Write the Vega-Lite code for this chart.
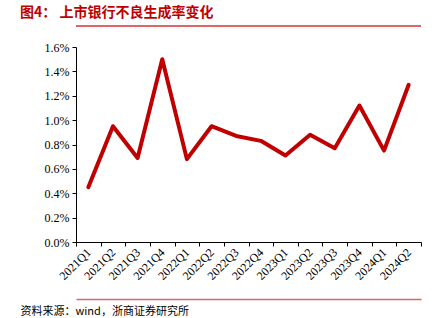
{
  "$schema": "https://vega.github.io/schema/vega-lite/v6.json",
  "autosize": "none",
  "width": 345,
  "height": 195,
  "padding": {"left": 76, "top": 47, "right": 23, "bottom": 76},
  "background": "white",
  "title": {
    "text": "图4：   上市银行不良生成率变化",
    "anchor": "start",
    "frame": "group",
    "dx": -56,
    "font": "Noto Sans CJK SC",
    "fontSize": 14,
    "fontWeight": "bold",
    "color": "#C00000",
    "offset": 6
  },
  "config": {
    "view": {"stroke": null},
    "axisY": {
      "title": null, "format": ".1%", "values": [0, 0.002, 0.004, 0.006, 0.008, 0.01, 0.012, 0.014, 0.016],
      "tickCount": 9,
      "grid": false, "labelFont": "Liberation Serif", "labelFontSize": 12, "labelColor": "#000",
      "labelOverlap": false,
      "tickSize": 4, "tickColor": "#000", "domainColor": "#000", "labelPadding": 3
    }
  },
  "data": {
    "values": [
      {"q": "2021Q1", "v": 0.0045},
      {"q": "2021Q2", "v": 0.0095},
      {"q": "2021Q3", "v": 0.0069},
      {"q": "2021Q4", "v": 0.0150},
      {"q": "2022Q1", "v": 0.0068},
      {"q": "2022Q2", "v": 0.0095},
      {"q": "2022Q3", "v": 0.0087},
      {"q": "2022Q4", "v": 0.0083},
      {"q": "2023Q1", "v": 0.0071},
      {"q": "2023Q2", "v": 0.0088},
      {"q": "2023Q3", "v": 0.0077},
      {"q": "2023Q4", "v": 0.0112},
      {"q": "2024Q1", "v": 0.0075},
      {"q": "2024Q2", "v": 0.0129}
    ]
  },
  "layer": [
    {
      "mark": {"type": "line", "color": "#C00000", "strokeWidth": 4, "strokeJoin": "round", "strokeCap": "round"},
      "encoding": {
        "x": {
          "field": "q", "type": "ordinal", "sort": null, "bandPosition": 0.5,
          "scale": {"type": "band", "paddingInner": 0, "paddingOuter": 0},
          "axis": {
            "orient": "bottom",
            "title": null, "labelAngle": -45, "labelAlign": "right", "labelBaseline": "middle",
            "labelFont": "Liberation Serif", "labelFontSize": 12, "labelColor": "#000",
            "labelPadding": 4,
            "tickBand": "extent", "tickSize": 4, "tickColor": "#000", "domainColor": "#000",
            "labelOverlap": false
          }
        },
        "y": {
          "field": "v", "type": "quantitative",
          "scale": {"domain": [0, 0.016]},
          "axis": {"values": [0, 0.002, 0.004, 0.006, 0.008, 0.01, 0.012, 0.014, 0.016], "tickCount": 9, "format": ".1%"}
        }
      }
    },
    {
      "mark": {"type": "line", "strokeOpacity": 0},
      "encoding": {
        "x": {
          "field": "q", "type": "ordinal", "sort": null,
          "scale": {"type": "band", "paddingInner": 0, "paddingOuter": 0},
          "axis": {
            "orient": "bottom", "offset": 57, "labels": false, "ticks": false,
            "domainColor": "#E06666", "domainWidth": 1.5,
            "title": "资料来源：wind，浙商证券研究所",
            "titleAnchor": "start", "titleAlign": "left", "titleX": -56, "titleY": 6,
            "titleBaseline": "top",
            "titleFont": "Noto Sans CJK SC", "titleFontSize": 11, "titleFontWeight": "normal",
            "titleColor": "#000"
          }
        },
        "y": {
          "field": "v", "type": "quantitative", "scale": {"domain": [0, 0.016]},
          "axis": {"values": [0, 0.002, 0.004, 0.006, 0.008, 0.01, 0.012, 0.014, 0.016], "tickCount": 9, "format": ".1%"}
        }
      }
    },
    {
      "mark": {"type": "rule", "color": "#E06666", "strokeWidth": 1.5, "clip": false},
      "encoding": {
        "y": {"datum": 0.0177, "type": "quantitative"}
      }
    }
  ],
  "resolve": {"scale": {"x": "independent"}, "axis": {"x": "independent"}}
}
